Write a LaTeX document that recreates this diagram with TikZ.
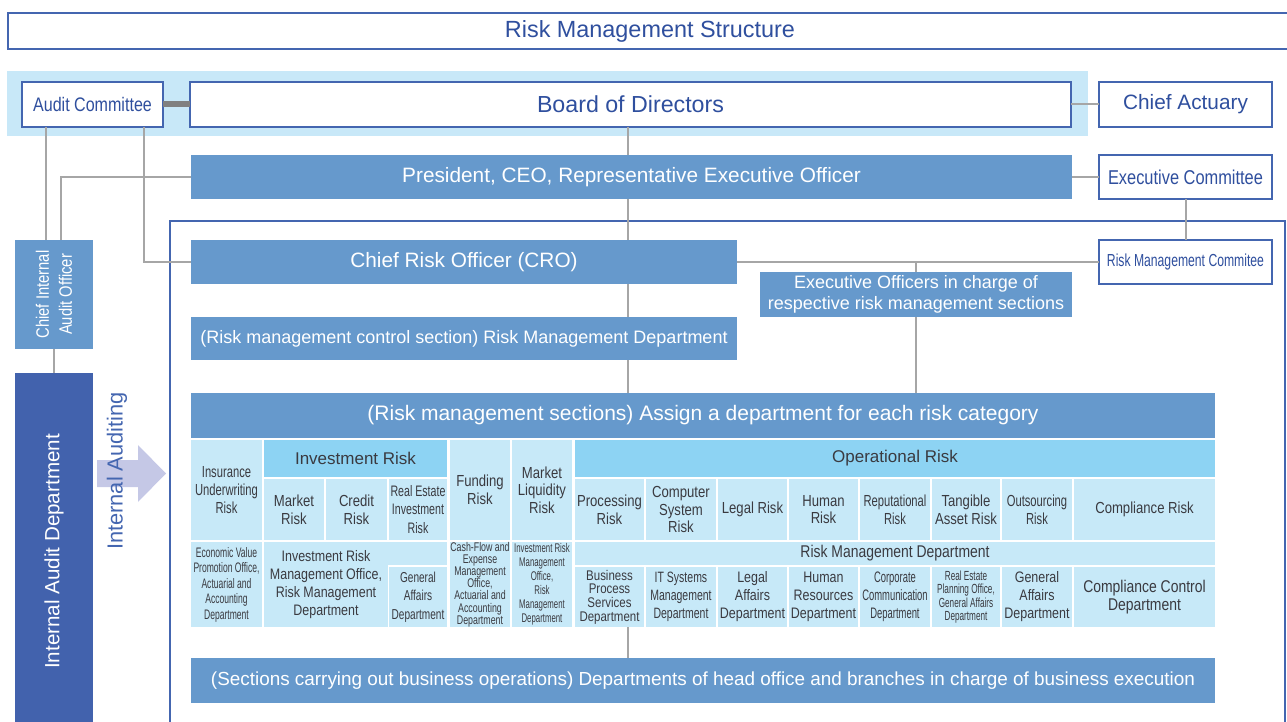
\documentclass[tikz,border=0pt]{standalone}
\usepackage{fontspec}
\setmainfont{Liberation Sans}
\newfontfamily\condfont{Liberation Sans}[FakeStretch=0.82]
\newfontfamily\narrowfont{Liberation Sans}[FakeStretch=0.7]
\newfontfamily\tightfont{Liberation Sans}[FakeStretch=0.62]

\definecolor{boxBlue}{HTML}{6699CC}
\definecolor{iadBlue}{HTML}{4262AD}
\definecolor{lineBlue}{HTML}{4466B0}
\definecolor{titleBlue}{HTML}{2F4F9E}
\definecolor{bandBlue}{HTML}{C8E8F8}
\definecolor{cellBlue}{HTML}{C7E9F8}
\definecolor{headBlue}{HTML}{8DD3F3}
\definecolor{cellText}{HTML}{3A3A40}
\definecolor{linkGray}{HTML}{A6A6A6}
\definecolor{arrowLav}{HTML}{C5C8E6}

\newcommand\cellfont{\condfont\fontsize{8}{8.8}\selectfont}
\newcommand\hdfont{\fontsize{8.5}{10}\selectfont}

\begin{document}
\begin{tikzpicture}[
  x=0.5pt, y=-0.5pt,
  every node/.style={inner sep=0pt, outer sep=0pt, align=center},
  spanbox/.style n args={4}{at={({(#1+#3)/2},{(#2+#4)/2})},
    minimum width={(#3-#1)*0.5pt}, minimum height={(#4-#2)*0.5pt}},
  whitebox/.style={draw=lineBlue, line width=1pt, fill=white, text=titleBlue},
  bluebox/.style={fill=boxBlue, text=white},
  cell/.style={fill=cellBlue, text=cellText, font=\cellfont},
  headcell/.style={fill=headBlue, text=cellText, font=\hdfont},
  link/.style={draw=linkGray, line width=1pt},
  thicklink/.style={draw=gray, line width=3pt}
]
\useasboundingbox (0,0) rectangle (1287,722);

% title and board band
\node[whitebox, spanbox={8}{13}{1292}{49}, font=\fontsize{11.7}{14}\selectfont] (title) {Risk Management Structure};
\fill[bandBlue] (7,71) rectangle (1088,136);
\draw[lineBlue, line width=0.8pt] (170,221) rectangle (1285,740);

% top of the structure
\node[whitebox, spanbox={22}{82}{163}{127}, font=\condfont\fontsize{9.8}{12}\selectfont] (ac) {Audit Committee};
\node[whitebox, spanbox={190}{82}{1071}{127}, font=\fontsize{11.6}{14}\selectfont] (board) {Board of Directors};
\node[whitebox, spanbox={1099}{82}{1272}{127}, font=\fontsize{10.4}{12}\selectfont] (actuary) {Chief Actuary};
\node[bluebox, spanbox={191}{155}{1072}{199}, font=\fontsize{10.4}{12}\selectfont] (pres) {President, CEO, Representative Executive Officer};
\node[whitebox, spanbox={1099}{155}{1272}{199}, font=\condfont\fontsize{10}{12}\selectfont] (execc) {Executive Committee};
\node[whitebox, spanbox={1099}{240}{1272}{284}, font=\narrowfont\fontsize{8.7}{10}\selectfont] (rmc) {Risk Management Commitee};
\node[bluebox, spanbox={191}{240}{737}{284}, font=\fontsize{10.4}{12}\selectfont] (cro) {Chief Risk Officer (CRO)};
\node[bluebox, spanbox={760}{272}{1072}{317}, font=\fontsize{9}{10.5}\selectfont] (exo) {Executive Officers in charge of\\respective risk management sections};
\node[bluebox, spanbox={191}{317}{737}{360}, font=\fontsize{9}{11}\selectfont] (rmd) {(Risk management control section) Risk Management Department};

% internal audit side
\node[bluebox, spanbox={15}{240}{93}{349},
  label={[rotate=90, text=white, align=center, font=\condfont\fontsize{9}{11.5}\selectfont]center:Chief Internal\\Audit Officer}] (ciao) {};
\node[fill=iadBlue, spanbox={15}{373}{93}{730},
  label={[rotate=90, text=white, font=\fontsize{10.3}{12}\selectfont]center:Internal Audit Department}] (iad) {};
\fill[arrowLav] (97,460) -- (138,460) -- (138,445) -- (166,473.5) -- (138,502) -- (138,487) -- (97,487) -- cycle;
\node[rotate=90, text=lineBlue, font=\fontsize{10.9}{12}\selectfont] (auditing) at (117,471) {Internal Auditing};

% risk management sections
\node[bluebox, spanbox={191}{393}{1215}{438}, font=\fontsize{10.5}{12}\selectfont] (sect) {(Risk management sections) Assign a department for each risk category};

% risk categories
\node[cell, spanbox={191}{440}{262}{540}, font=\narrowfont\fontsize{8}{8.8}\selectfont] (insRisk) {Insurance\\Underwriting\\Risk};
\node[headcell, spanbox={264}{440}{447}{477}] (invHead) {Investment Risk};
\node[cell, spanbox={264}{479}{324}{540}] (mktRisk) {Market\\Risk};
\node[cell, spanbox={326}{479}{387}{540}] (crdRisk) {Credit\\Risk};
\node[cell, spanbox={389}{479}{447}{540}, font=\narrowfont\fontsize{7.6}{9.2}\selectfont] (reRisk) {Real Estate\\Investment\\Risk};
\node[cell, spanbox={450}{440}{510}{540}] (fundRisk) {Funding\\Risk};
\node[cell, spanbox={512}{440}{572}{540}] (liqRisk) {Market\\Liquidity\\Risk};
\node[headcell, spanbox={575}{440}{1215}{477}] (opHead) {Operational Risk};
\node[cell, spanbox={575}{479}{644}{540}] (procRisk) {Processing\\Risk};
\node[cell, spanbox={646}{479}{716}{540}] (compRisk) {Computer\\System\\Risk};
\node[cell, spanbox={718}{479}{787}{540}] (legalRisk) {Legal Risk};
\node[cell, spanbox={789}{479}{858}{540}] (humanRisk) {Human\\Risk};
\node[cell, spanbox={860}{479}{930}{540}, font=\narrowfont\fontsize{8}{8.8}\selectfont] (repRisk) {Reputational\\Risk};
\node[cell, spanbox={932}{479}{1000}{540}] (tangRisk) {Tangible\\Asset Risk};
\node[cell, spanbox={1002}{479}{1072}{540}, font=\narrowfont\fontsize{8}{8.8}\selectfont] (outsRisk) {Outsourcing\\Risk};
\node[cell, spanbox={1074}{479}{1215}{540}] (complRisk) {Compliance Risk};

% departments in charge
\node[cell, spanbox={191}{542}{262}{627}, font=\tightfont\fontsize{6.9}{7.75}\selectfont] (evDept) {Economic Value\\Promotion Office,\\Actuarial and\\Accounting\\Department};
\node[cell, spanbox={264}{542}{388}{627}, font=\condfont\fontsize{7.6}{9}\selectfont] (invDept) {Investment Risk\\Management Office,\\Risk Management\\Department};
\node[cell, spanbox={388}{542}{447}{565}] (invDeptTop) {};
\node[cell, spanbox={389}{567}{447}{627}, font=\narrowfont\fontsize{7.2}{9.2}\selectfont] (gaInvDept) {General\\Affairs\\Department};
\node[cell, spanbox={450}{542}{510}{627}, font=\narrowfont\fontsize{6.3}{6.1}\selectfont] (cfDept) {Cash-Flow and\\Expense\\Management\\Office,\\Actuarial and\\Accounting\\Department};
\node[cell, spanbox={512}{542}{572}{627}, font=\tightfont\fontsize{6.3}{7}\selectfont] (liqDept) {Investment Risk\\Management\\Office,\\Risk\\Management\\Department};
\node[cell, spanbox={575}{542}{1215}{565}, font=\condfont\fontsize{8.5}{9}\selectfont] (rmHead) {Risk Management Department};
\node[cell, spanbox={575}{567}{644}{627}, font=\condfont\fontsize{7}{6.8}\selectfont] (bpsDept) {Business\\Process\\Services\\Department};
\node[cell, spanbox={646}{567}{716}{627}, font=\narrowfont\fontsize{7.5}{9}\selectfont] (itDept) {IT Systems\\Management\\Department};
\node[cell, spanbox={718}{567}{787}{627}, font=\condfont\fontsize{7.6}{9}\selectfont] (laDept) {Legal\\Affairs\\Department};
\node[cell, spanbox={789}{567}{858}{627}, font=\condfont\fontsize{7.6}{9}\selectfont] (hrDept) {Human\\Resources\\Department};
\node[cell, spanbox={860}{567}{930}{627}, font=\tightfont\fontsize{7.6}{9}\selectfont] (ccDept) {Corporate\\Communication\\Department};
\node[cell, spanbox={932}{567}{1000}{627}, font=\tightfont\fontsize{6.6}{6.6}\selectfont] (repoDept) {Real Estate\\Planning Office,\\General Affairs\\Department};
\node[cell, spanbox={1002}{567}{1072}{627}, font=\condfont\fontsize{7.6}{9}\selectfont] (gaDept) {General\\Affairs\\Department};
\node[cell, spanbox={1074}{567}{1215}{627}, font=\condfont\fontsize{8.5}{9}\selectfont] (ccdDept) {Compliance Control\\Department};

% business execution
\node[bluebox, spanbox={191}{658}{1215}{703}, font=\fontsize{9.45}{11}\selectfont] (final) {(Sections carrying out business operations) Departments of head office and branches in charge of business execution};

% connectors
\coordinate (spine) at (628,0);
\coordinate (acLeft) at (46,0);
\coordinate (acRight) at (144,0);
\coordinate (ciaoIn) at (61,0);
\draw[thicklink] (ac.east) -- (board.west);
\draw[link] (board.east) -- (actuary.west);
\draw[link] (board.south -| spine) -- (pres.north -| spine);
\draw[link] (pres.east) -- (execc.west);
\draw[link] (execc.south) -- (rmc.north);
\draw[link] (pres.south -| spine) -- (cro.north -| spine);
\draw[link] (cro.east) -- (rmc.west);
\draw[link] (exo.north) -- (exo.north |- cro.east);
\draw[link] (cro.south -| spine) -- (rmd.north -| spine);
\draw[link] (rmd.south -| spine) -- (sect.north -| spine);
\draw[link] (exo.south) -- (exo.south |- sect.north);
\draw[link] (bpsDept.south -| spine) -- (final.north -| spine);
\draw[link] (ac.south -| acLeft) -- (ciao.north -| acLeft);
\draw[link] (ac.south -| acRight) |- (cro.west);
\draw[link] (pres.west) -| (ciao.north -| ciaoIn);
\draw[link] (ciao.south) -- (iad.north);
\end{tikzpicture}
\end{document}
